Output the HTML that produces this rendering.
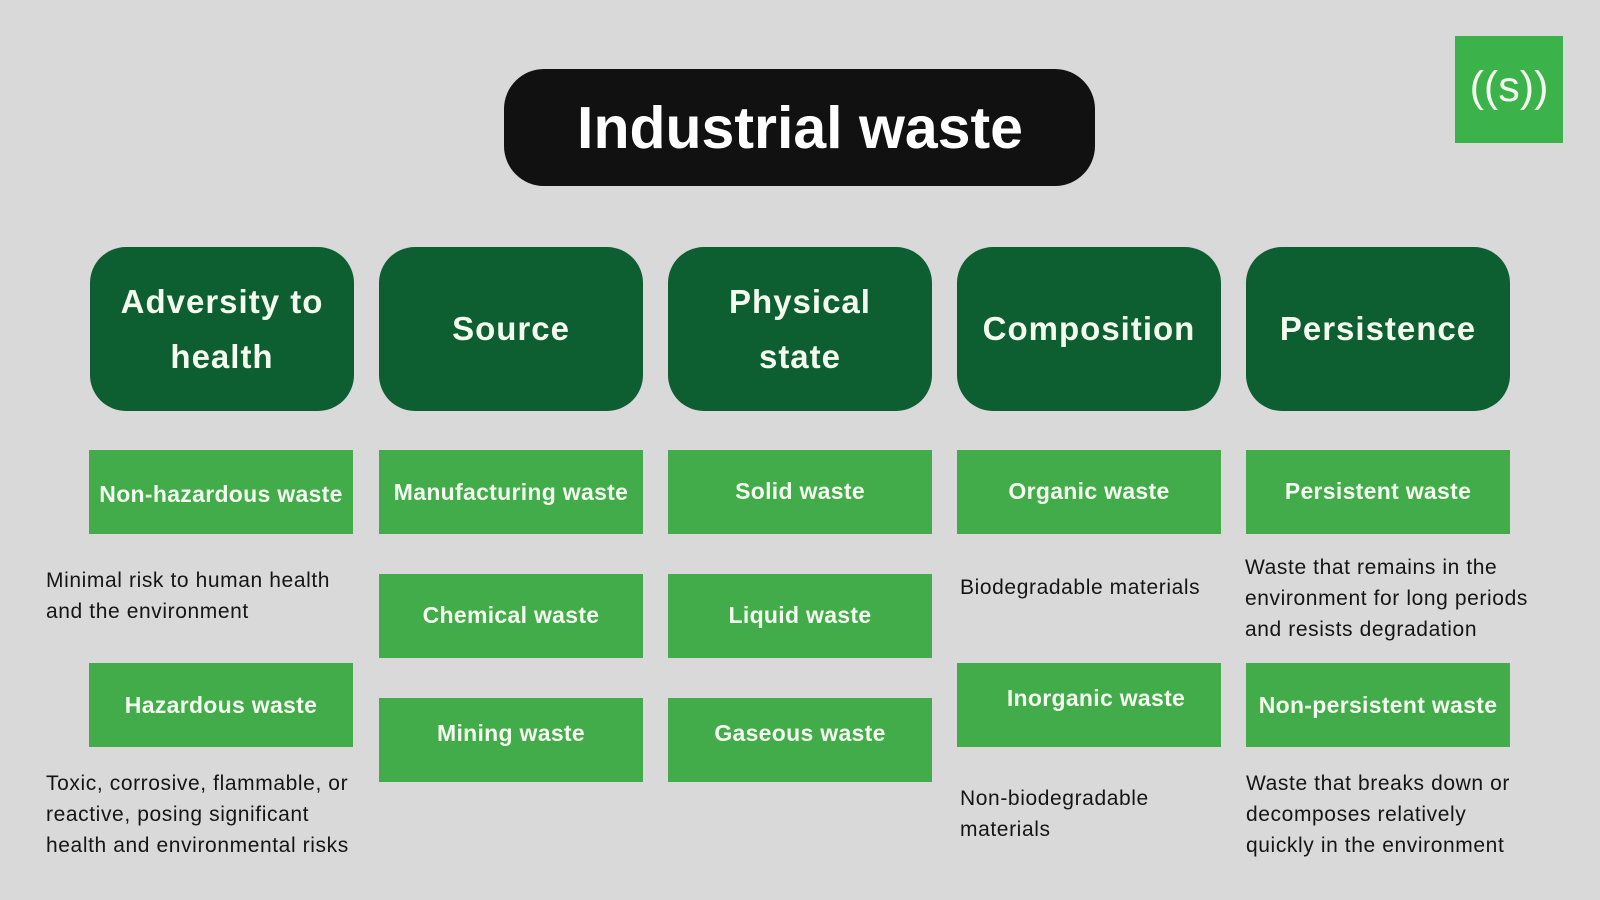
<!DOCTYPE html>
<html>
<head>
<meta charset="utf-8">
<style>
  html, body { margin:0; padding:0; background:#d9d9d9; }
  body { width:1600px; height:900px; overflow:hidden; }
  svg { display:block; }
  .cat { font-family:"Liberation Sans", sans-serif; font-weight:bold; font-size:33px; fill:#f4fbef; letter-spacing:1px; }
  .item { font-family:"Liberation Sans", sans-serif; font-weight:bold; font-size:23px; fill:#f4fbef; letter-spacing:0.3px; }
  .desc { font-family:"Liberation Sans", sans-serif; font-size:21px; fill:#151515; letter-spacing:0.6px; }
</style>
</head>
<body>
<svg width="1600" height="900" viewBox="0 0 1600 900" xmlns="http://www.w3.org/2000/svg">
  <rect x="0" y="0" width="1600" height="900" fill="#d9d9d9"/>

  <!-- Title -->
  <rect x="504" y="69" width="591" height="117" rx="40" ry="40" fill="#111111"/>
  <text x="800" y="148" text-anchor="middle" font-family="Liberation Sans, sans-serif" font-weight="bold" font-size="59" fill="#ffffff">Industrial waste</text>

  <!-- Logo -->
  <rect x="1455" y="36" width="108" height="107" fill="#3cb34a"/>
  <text x="1509" y="101" text-anchor="middle" font-family="Liberation Sans, sans-serif" font-size="43" fill="#f4fbef">((s))</text>

  <!-- Category boxes -->
  <g fill="#0d5e31">
    <rect x="90" y="247" width="264" height="164" rx="36" ry="36"/>
    <rect x="379" y="247" width="264" height="164" rx="36" ry="36"/>
    <rect x="668" y="247" width="264" height="164" rx="36" ry="36"/>
    <rect x="957" y="247" width="264" height="164" rx="36" ry="36"/>
    <rect x="1246" y="247" width="264" height="164" rx="36" ry="36"/>
  </g>
  <text class="cat" x="222" y="313" text-anchor="middle">Adversity to</text>
  <text class="cat" x="222" y="368" text-anchor="middle">health</text>
  <text class="cat" x="511" y="340" text-anchor="middle">Source</text>
  <text class="cat" x="800" y="313" text-anchor="middle">Physical</text>
  <text class="cat" x="800" y="368" text-anchor="middle">state</text>
  <text class="cat" x="1089" y="340" text-anchor="middle">Composition</text>
  <text class="cat" x="1378" y="340" text-anchor="middle">Persistence</text>

  <!-- Item boxes -->
  <g fill="#42ac4a">
    <rect x="89" y="450" width="264" height="84"/>
    <rect x="89" y="663" width="264" height="84"/>
    <rect x="379" y="450" width="264" height="84"/>
    <rect x="379" y="574" width="264" height="84"/>
    <rect x="379" y="698" width="264" height="84"/>
    <rect x="668" y="450" width="264" height="84"/>
    <rect x="668" y="574" width="264" height="84"/>
    <rect x="668" y="698" width="264" height="84"/>
    <rect x="957" y="450" width="264" height="84"/>
    <rect x="957" y="663" width="264" height="84"/>
    <rect x="1246" y="450" width="264" height="84"/>
    <rect x="1246" y="663" width="264" height="84"/>
  </g>
  <text class="item" x="221" y="502" text-anchor="middle">Non-hazardous waste</text>
  <text class="item" x="221" y="713" text-anchor="middle">Hazardous waste</text>
  <text class="item" x="511" y="500" text-anchor="middle">Manufacturing waste</text>
  <text class="item" x="511" y="623" text-anchor="middle">Chemical waste</text>
  <text class="item" x="511" y="741" text-anchor="middle">Mining waste</text>
  <text class="item" x="800" y="499" text-anchor="middle">Solid waste</text>
  <text class="item" x="800" y="623" text-anchor="middle">Liquid waste</text>
  <text class="item" x="800" y="741" text-anchor="middle">Gaseous waste</text>
  <text class="item" x="1089" y="499" text-anchor="middle">Organic waste</text>
  <text class="item" x="1096" y="706" text-anchor="middle">Inorganic waste</text>
  <text class="item" x="1378" y="499" text-anchor="middle">Persistent waste</text>
  <text class="item" x="1378" y="713" text-anchor="middle">Non-persistent waste</text>

  <!-- Descriptions -->
  <text class="desc" x="46" y="587">Minimal risk to human health</text>
  <text class="desc" x="46" y="618">and the environment</text>
  <text class="desc" x="46" y="790">Toxic, corrosive, flammable, or</text>
  <text class="desc" x="46" y="821">reactive, posing significant</text>
  <text class="desc" x="46" y="852">health and environmental risks</text>

  <text class="desc" x="960" y="594">Biodegradable materials</text>
  <text class="desc" x="960" y="805">Non-biodegradable</text>
  <text class="desc" x="960" y="836">materials</text>

  <text class="desc" x="1245" y="574">Waste that remains in the</text>
  <text class="desc" x="1245" y="605">environment for long periods</text>
  <text class="desc" x="1245" y="636">and resists degradation</text>
  <text class="desc" x="1246" y="790">Waste that breaks down or</text>
  <text class="desc" x="1246" y="821">decomposes relatively</text>
  <text class="desc" x="1246" y="852">quickly in the environment</text>
</svg>
</body>
</html>
